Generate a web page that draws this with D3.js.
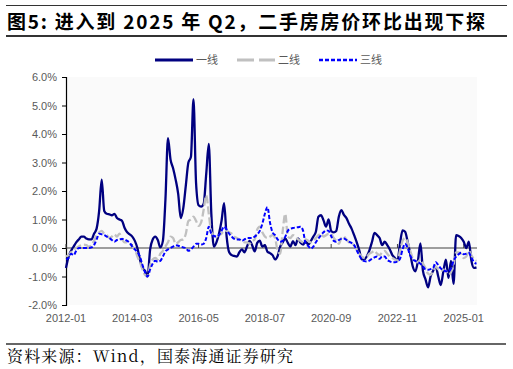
<!DOCTYPE html>
<html><head><meta charset="utf-8">
<script src="https://cdn.jsdelivr.net/npm/d3@7/dist/d3.min.js"></script>
<style>
html,body{margin:0;padding:0;background:#fff;}
svg{display:block;}
</style></head>
<body><svg id="c" width="513" height="369"></svg>
<script>
const titleText = "图5:  进入到 2025 年 Q2，二手房房价环比出现下探";
const sourceText = "资料来源：Wind，国泰海通证券研究";
const seriesNames = ["一线", "二线", "三线"];
const startMonth = "2012-01";
const monthCount = 162; // 2012-01 … 2025-06
const xTickLabels = ["2012-01","2014-03","2016-05","2018-07","2020-09","2022-11","2025-01"];
const yTicks = [-2, -1, 0, 1, 2, 3, 4, 5, 6];

const tier1 = [
-0.70,-0.30,-0.10,0.05,0.20,0.30,0.40,0.40,0.33,0.30,
0.30,0.50,0.68,1.30,2.40,1.30,1.20,1.18,1.15,1.20,
1.05,1.00,0.95,0.70,0.55,0.48,0.40,0.25,0.00,-0.40,
-0.70,-0.80,-1.00,-0.05,0.30,0.40,0.28,0.02,0.25,1.70,
3.85,3.10,2.80,2.40,1.90,1.05,1.40,2.20,3.00,3.20,
5.22,2.30,1.50,1.45,1.55,2.60,3.65,1.20,0.05,0.20,
0.50,0.95,1.57,0.40,-0.15,-0.25,-0.28,-0.30,-0.15,-0.05,
-0.15,0.05,0.25,0.10,-0.12,0.18,0.26,0.05,0.10,-0.13,
-0.18,-0.25,-0.40,-0.28,0.05,0.20,0.34,0.18,0.05,0.24,
0.10,0.34,0.18,0.12,0.24,0.12,0.24,0.40,0.57,1.10,
1.15,0.97,0.75,1.00,0.60,0.55,0.60,1.10,1.33,1.16,
1.05,0.85,0.68,0.45,0.21,-0.07,-0.40,-0.40,-0.29,-0.08,
0.21,0.53,0.45,0.35,0.10,0.22,0.10,-0.05,-0.25,-0.35,
-0.45,0.15,0.62,0.57,0.22,-0.20,-0.65,-0.82,-0.47,0.16,
-0.80,-1.10,-1.38,-1.00,-0.80,-0.65,-1.00,-1.30,-0.82,-0.41,
-1.05,-0.45,-1.26,0.45,0.42,0.35,0.22,0.00,0.22,-0.45,
-0.70,-0.68];

const tier2 = [
-0.30,-0.25,-0.15,-0.05,0.00,0.05,0.10,0.12,0.10,0.05,
0.10,0.25,0.45,0.55,0.60,0.50,0.45,0.35,0.40,0.48,
0.40,0.50,0.30,0.20,0.20,0.15,0.05,-0.05,-0.30,-0.50,
-0.75,-0.95,-1.00,-0.60,-0.40,-0.35,-0.40,-0.20,-0.10,0.05,
0.20,0.40,0.35,0.15,0.20,0.28,0.30,0.50,0.95,1.00,
1.10,0.95,0.78,0.90,1.35,1.85,1.20,0.55,0.45,0.40,
0.45,0.50,0.62,0.60,0.55,0.50,0.40,0.35,0.30,0.25,
0.20,0.20,0.15,0.25,0.30,0.65,0.75,0.55,0.40,0.35,
0.40,0.45,0.35,-0.10,-0.20,0.60,1.20,0.40,0.35,0.45,
0.40,0.30,0.25,0.20,0.30,0.25,0.20,0.25,0.35,0.45,
0.50,0.40,0.45,0.50,0.50,0.35,0.25,0.15,0.35,0.40,
0.30,0.20,0.15,0.10,-0.05,-0.20,-0.30,-0.35,-0.30,-0.20,
-0.15,-0.10,-0.20,-0.25,-0.15,-0.10,-0.20,-0.30,-0.35,-0.40,
-0.45,-0.10,0.25,0.35,0.20,-0.10,-0.35,-0.45,-0.50,-0.40,
-0.55,-0.70,-0.90,-0.94,-0.80,-0.65,-0.75,-0.80,-0.76,-0.80,
-0.94,-0.85,-0.60,-0.15,-0.15,-0.20,-0.35,-0.30,-0.10,-0.25,
-0.40,-0.45];

const tier3 = [
-0.40,-0.35,-0.20,-0.25,-0.10,0.00,0.00,0.00,0.00,0.00,
0.02,0.10,0.30,0.50,0.48,0.45,0.40,0.35,0.28,0.22,
0.28,0.30,0.32,0.30,0.25,0.18,0.05,-0.05,-0.15,-0.30,
-0.60,-0.85,-1.00,-0.75,-0.55,-0.45,-0.48,-0.45,-0.30,-0.12,
-0.05,0.00,0.05,0.10,0.08,0.05,0.02,0.00,-0.10,-0.05,
0.05,0.15,0.15,0.12,0.15,0.35,0.75,0.50,0.42,0.40,
0.45,0.60,0.75,0.65,0.50,0.40,0.32,0.30,0.30,0.25,
0.30,0.35,0.35,0.35,0.40,0.48,0.60,0.85,1.20,1.43,
0.90,0.55,0.45,0.30,0.22,0.25,0.40,0.60,0.68,0.70,
0.72,0.73,0.75,0.60,0.15,0.07,-0.02,0.05,0.20,0.33,
0.45,0.55,0.62,0.60,0.42,0.25,0.22,0.28,0.32,0.33,
0.28,0.22,0.18,0.10,-0.08,-0.25,-0.40,-0.46,-0.47,-0.44,
-0.38,-0.33,-0.30,-0.38,-0.30,-0.30,-0.42,-0.47,-0.50,-0.50,
-0.47,-0.38,-0.05,0.15,0.00,-0.26,-0.40,-0.45,-0.50,-0.55,
-0.65,-0.75,-0.76,-0.74,-0.70,-0.50,-0.60,-0.72,-0.76,-0.82,
-0.82,-0.72,-0.45,-0.30,-0.22,-0.17,-0.22,-0.20,-0.17,-0.33,
-0.50,-0.55];

// ---------- build ----------
const parse = d3.timeParse("%Y-%m");
const fmt = d3.timeFormat("%Y-%m");
const t0 = parse(startMonth);
const months = d3.range(monthCount).map(i => d3.timeMonth.offset(t0, i));
const monthLabels = months.map(fmt);

const svg = d3.select("#c");
const L = 66, R = 476.5, T = 77, B = 305;

const x = d3.scaleLinear().domain([0, monthCount - 1]).range([L, R]);
const y = d3.scaleLinear().domain([-2, 6]).range([B, T]);

// title block
svg.append("line").attr("x1", 6).attr("x2", 507).attr("y1", 5.5).attr("y2", 5.5)
  .attr("stroke", "#333").attr("stroke-width", 1);
svg.append("text").attr("x", 7).attr("y", 29)
  .attr("font-family", "'Noto Sans CJK SC', sans-serif").attr("font-weight", "bold")
  .attr("font-size", 19).attr("fill", "#000")
  .attr("textLength", 478).attr("lengthAdjust", "spacing").text(titleText);
svg.append("line").attr("x1", 6).attr("x2", 507).attr("y1", 36).attr("y2", 36)
  .attr("stroke", "#333").attr("stroke-width", 2);

// plot background
svg.append("rect").attr("x", L).attr("y", T).attr("width", 477 - L).attr("height", B - T)
  .attr("fill", "#fafafa");

// y axis
const yAxis = d3.axisLeft(y).tickValues(yTicks).tickSize(4).tickFormat(d => d.toFixed(1) + "%");
const yg = svg.append("g").attr("transform", `translate(${L},0)`).call(yAxis);
yg.select(".domain").attr("stroke", "#000").attr("stroke-width", 1.2);
yg.selectAll(".tick line").attr("stroke", "#000");
yg.selectAll("text").attr("font-family", "'Liberation Sans', Arial, sans-serif")
  .attr("font-size", 11).attr("fill", "#595959").attr("x", -9);

// x axis at zero
const tickIdx = xTickLabels.map(s => monthLabels.indexOf(s));
svg.append("line").attr("x1", L).attr("x2", 477).attr("y1", y(0)).attr("y2", y(0))
  .attr("stroke", "#404040").attr("stroke-width", 1.2);
svg.append("g").selectAll("line").data(tickIdx).join("line")
  .attr("x1", d => x(d)).attr("x2", d => x(d)).attr("y1", y(0)).attr("y2", y(0) - 4)
  .attr("stroke", "#404040");
svg.append("g").selectAll("text").data(tickIdx).join("text")
  .attr("x", d => x(d)).attr("y", 322).attr("text-anchor", "middle")
  .attr("font-family", "'Liberation Sans', Arial, sans-serif").attr("font-size", 11)
  .attr("fill", "#595959").text(d => monthLabels[d]);

// lines
const line = d3.line().x((d, i) => x(i)).y(d => y(d)).curve(d3.curveMonotoneX);
const styles = [
  {data: tier1, color: "#000080", w: 2.3, dash: null},
  {data: tier2, color: "#c0c0c0", w: 2.3, dash: "8,3"},
  {data: tier3, color: "#0000ff", w: 2, dash: "4,2"}
];
styles.forEach(s => {
  svg.append("path").datum(s.data).attr("d", line).attr("fill", "none")
    .attr("stroke", s.color).attr("stroke-width", s.w)
    .attr("stroke-dasharray", s.dash).attr("stroke-linejoin", "round");
});

// legend
const legX = [155, 237, 319];
const lg = svg.append("g");
styles.forEach((s, k) => {
  lg.append("line").attr("x1", legX[k]).attr("x2", legX[k] + 38).attr("y1", 60).attr("y2", 60)
    .attr("stroke", s.color).attr("stroke-width", s.w + 0.7).attr("stroke-dasharray", k === 1 ? "17,5" : s.dash);
  lg.append("text").attr("x", legX[k] + 41).attr("y", 64)
    .attr("font-family", "'Noto Sans CJK SC', sans-serif").attr("font-size", 11)
    .attr("fill", "#595959").text(seriesNames[k]);
});

// source
svg.append("line").attr("x1", 6).attr("x2", 506).attr("y1", 344).attr("y2", 344)
  .attr("stroke", "#333").attr("stroke-width", 1.5);
svg.append("text").attr("x", 7).attr("y", 362)
  .attr("font-family", "'Noto Serif CJK SC', 'Liberation Serif', 'Noto Sans CJK SC', serif")
  .attr("font-size", 16).attr("fill", "#000")
  .attr("textLength", 286).attr("lengthAdjust", "spacing").text(sourceText);
</script></body></html>
